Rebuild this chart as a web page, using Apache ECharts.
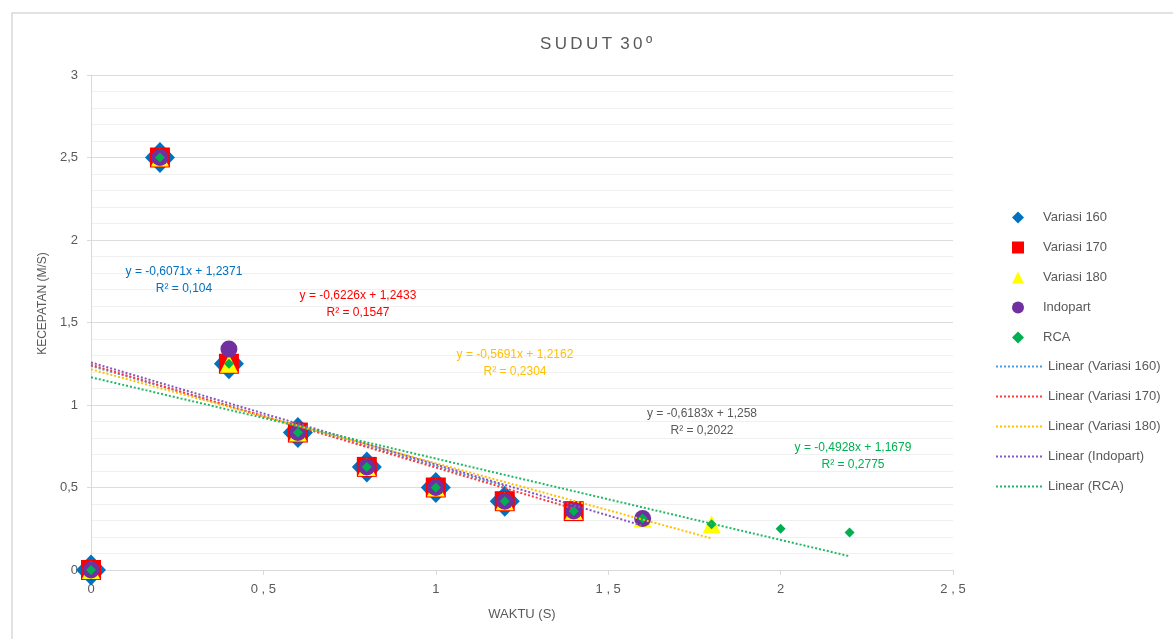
<!DOCTYPE html>
<html>
<head>
<meta charset="utf-8">
<script src="https://cdn.jsdelivr.net/npm/echarts@6/dist/echarts.min.js"></script>
<style>
  html, body { margin: 0; padding: 0; background: #fff; }
  #chart { width: 1173px; height: 639px; }
</style>
</head>
<body>
<div id="chart"></div>
<script>
// waktu (s)
const xValues = [0, 0.2, 0.4, 0.6, 0.8, 1.0, 1.2, 1.4, 1.6, 1.8, 2.0, 2.2];
// kecepatan (m/s)
const variasi160 = [0, 2.5, 1.25, 0.833, 0.625, 0.5, 0.417];
const variasi170 = [0, 2.5, 1.25, 0.833, 0.625, 0.5, 0.417, 0.357];
const variasi180 = [0, 2.5, 1.25, 0.833, 0.625, 0.5, 0.417, 0.357, 0.3125, 0.278];
const indopart = [0, 2.5, 1.34, 0.833, 0.625, 0.5, 0.417, 0.357, 0.3125];
const rca = [0, 2.5, 1.25, 0.833, 0.625, 0.5, 0.417, 0.357, 0.3125, 0.278, 0.25, 0.227];

const seriesNames = ['Variasi 160', 'Variasi 170', 'Variasi 180', 'Indopart', 'RCA'];
const trendSlopes = [-0.6071, -0.6226, -0.5691, -0.6183, -0.4928];
const trendIntercepts = [1.2371, 1.2433, 1.2162, 1.258, 1.1679];
const trendR2 = ['0,104', '0,1547', '0,2304', '0,2022', '0,2775'];

const xTicks = ['0', '0 , 5', '1', '1 , 5', '2', '2 , 5'];
const yTicks = ['0', '0,5', '1', '1,5', '2', '2,5', '3'];

const allData = [variasi160, variasi170, variasi180, indopart, rca];
const markerColors = ['#0070C0', '#FF0000', '#FFFF00', '#7030A0', '#00B050'];
const trendColors = ['#4A9BDB', '#FF3B3B', '#FFC000', '#8A55C0', '#21B864'];
const labelColors = ['#0070C0', '#FF0000', '#FFC000', '#595959', '#00B050'];
const symbols = ['diamond', 'rect', 'triangle', 'circle', 'diamond'];
const symbolSizes = [[30, 31], 20, 18, 17, 10];

const font = '"Liberation Sans", Arial, sans-serif';

let dom = echarts.init(document.getElementById('chart'));

let series = [];
allData.forEach((ys, i) => {
	series.push({
		name: seriesNames[i],
		type: 'scatter',
		data: ys.map((y, k) => [xValues[k], y]),
		symbol: symbols[i],
		symbolSize: symbolSizes[i],
		itemStyle: { color: markerColors[i], opacity: 1 },
		z: 2 + i
	});
});
allData.forEach((ys, i) => {
	const x0 = xValues[0];
	const x1 = xValues[ys.length - 1];
	series.push({
		name: 'Linear (' + seriesNames[i] + ')',
		type: 'line',
		data: [[x0, trendSlopes[i] * x0 + trendIntercepts[i]], [x1, trendSlopes[i] * x1 + trendIntercepts[i]]],
		symbol: 'none',
		lineStyle: { color: trendColors[i], width: 2, type: [2, 2] },
		itemStyle: { color: trendColors[i] },
		z: 10
	});
});

const fmt = v => v.toFixed(4).replace(/0+$/, '').replace('.', ',');
const labelPos = [[184, 272], [358, 296], [515, 355], [702, 414], [853, 448]];
let labels = labelPos.map((p, i) => ({
	type: 'text',
	x: p[0],
	y: p[1] + 8,
	style: {
		text: 'y = -' + fmt(-trendSlopes[i]) + 'x + ' + fmt(trendIntercepts[i]) + '\nR² = ' + trendR2[i],
		align: 'center',
		verticalAlign: 'middle',
		fill: labelColors[i],
		font: '12px ' + font,
		lineHeight: 17
	},
	z: 20
}));

let option = {
	animation: false,
	title: {
		text: 'S\u2009U\u2009D\u2009U\u2009T\u2009 3\u20090\u2009º',
		left: 591,
		top: 31,
		textAlign: 'center',
		textStyle: { color: '#595959', fontSize: 17, fontWeight: 'normal', fontFamily: font }
	},
	graphic: [{
		type: 'rect',
		shape: { x: 12, y: 13, width: 1180, height: 660 },
		style: { fill: 'none', stroke: '#D9D9D9', lineWidth: 1.5 },
		silent: true
	}].concat(labels),
	legend: [{
		data: seriesNames,
		orient: 'vertical',
		left: 1007,
		top: 206,
		itemWidth: 12,
		itemHeight: 12,
		itemGap: 17,
		textStyle: { color: '#595959', fontSize: 13, fontFamily: font, padding: [0, 0, 0, 14] }
	}, {
		data: seriesNames.map(n => 'Linear (' + n + ')'),
		orient: 'vertical',
		left: 990,
		top: 355,
		itemWidth: 47,
		itemHeight: 12,
		itemGap: 17,
		itemStyle: { opacity: 0 },
		textStyle: { color: '#595959', fontSize: 13, fontFamily: font }
	}],
	grid: {
		left: 91,
		top: 75,
		right: 220,
		bottom: 69,
		containLabel: false
	},
	xAxis: {
		type: 'value',
		min: 0,
		max: 2.5,
		interval: 0.5,
		name: 'WAKTU (S)',
		nameLocation: 'middle',
		nameGap: 38,
		nameTextStyle: { color: '#595959', fontSize: 13, fontFamily: font },
		axisLine: { show: true, onZero: false, lineStyle: { color: '#D9D9D9' } },
		axisTick: { show: true, length: 5, lineStyle: { color: '#D9D9D9' } },
		axisLabel: {
			color: '#595959', fontSize: 13, fontFamily: font, margin: 13,
			formatter: (v) => xTicks[Math.round(v / 0.5)]
		},
		splitLine: { show: false }
	},
	yAxis: {
		type: 'value',
		min: 0,
		max: 3,
		interval: 0.5,
		name: 'KECEPATAN (M/S)',
		nameLocation: 'middle',
		nameGap: 36,
		nameTextStyle: { color: '#595959', fontSize: 12, fontFamily: font, padding: [0, 0, 0, 38] },
		axisLine: { show: true, lineStyle: { color: '#D9D9D9' } },
		axisTick: { show: true, length: 4, lineStyle: { color: '#D9D9D9' } },
		axisLabel: {
			color: '#595959', fontSize: 13, fontFamily: font, margin: 13,
			formatter: (v) => yTicks[Math.round(v / 0.5)]
		},
		splitLine: { show: true, lineStyle: { color: '#DCDCDC' } },
		minorTick: { show: false, splitNumber: 5 },
		minorSplitLine: { show: true, lineStyle: { color: '#F0F0F0' } }
	},
	series: series
};

dom.setOption(option);
</script>
</body>
</html>
